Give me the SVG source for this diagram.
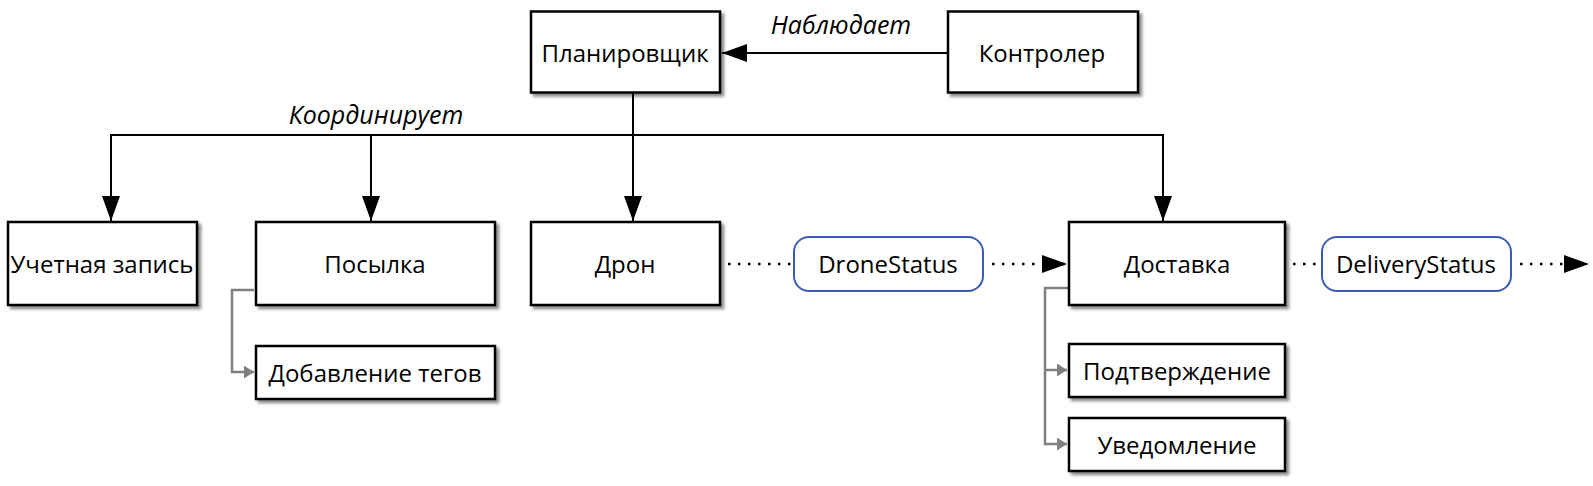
<svg xmlns="http://www.w3.org/2000/svg" width="1593" height="486" viewBox="0 0 1593 486">
<style>
  .box { fill: #ffffff; stroke: #000000; stroke-width: 2.5; filter: url(#shadow); }
  .data { fill: #ffffff; stroke: #3a5db3; stroke-width: 2; }
  .lbl { font-family: "Open Sans", "Noto Sans", sans-serif; font-size: 24px; fill: #000000; text-anchor: middle; dominant-baseline: central; }
  .edge { font-family: "Open Sans", "Noto Sans", sans-serif; font-size: 25px; font-style: italic; fill: #000000; text-anchor: middle; }
  .line { fill: none; stroke: #000000; stroke-width: 2; }
  .dot { fill: none; stroke: #000000; stroke-width: 2.5; stroke-dasharray: 2.5 7.5; }
  .gray { fill: none; stroke: #808080; stroke-width: 2.5; }
  .head { fill: #000000; }
</style>
<defs>
  <filter id="shadow" x="-10%" y="-10%" width="130%" height="140%">
    <feDropShadow dx="3" dy="3" stdDeviation="1.5" flood-color="#000000" flood-opacity="0.45"/>
  </filter>
  <marker id="arr" viewBox="0 0 25 18" refX="25" refY="9" markerWidth="25" markerHeight="18" markerUnits="userSpaceOnUse" orient="auto">
    <path d="M0,0 L25,9 L0,18 Z" class="head"/>
  </marker>
  <marker id="garr" viewBox="0 0 10 13" refX="10" refY="6.5" markerWidth="10" markerHeight="13" markerUnits="userSpaceOnUse" orient="auto">
    <path d="M0,0 L10,6.5 L0,13 Z" fill="#808080"/>
  </marker>
</defs>

<g id="connectors">
  <line class="line" x1="947" y1="53" x2="722" y2="53" marker-end="url(#arr)"/>
  <line class="line" x1="633" y1="93" x2="633" y2="221" marker-end="url(#arr)"/>
  <polyline class="line" points="111,221 111,135 1163,135 1163,221" marker-end="url(#arr)"/>
  <line class="line" x1="111" y1="136" x2="111" y2="221" marker-end="url(#arr)"/>
  <line class="line" x1="371" y1="135" x2="371" y2="221" marker-end="url(#arr)"/>
  <line class="dot" x1="728" y1="264" x2="793" y2="264"/>
  <line class="dot" x1="992" y1="264" x2="1067" y2="264" marker-end="url(#arr)"/>
  <line class="dot" x1="1293" y1="264" x2="1321" y2="264"/>
  <line class="dot" x1="1520" y1="264" x2="1589" y2="264" marker-end="url(#arr)"/>
  <polyline class="gray" points="254,290 232,290 232,372 254,372" marker-end="url(#garr)"/>
  <polyline class="gray" points="1068,288 1045,288 1045,444 1067,444" marker-end="url(#garr)"/>
  <line class="gray" x1="1045" y1="370" x2="1067" y2="370" marker-end="url(#garr)"/>
  <text class="edge" x="841" y="34">Наблюдает</text>
  <text class="edge" x="376" y="124">Координирует</text>
</g>

<g id="planner">
  <rect class="box" x="531" y="11.5" width="189" height="81"/>
  <text class="lbl" x="625" y="52">Планировщик</text>
</g>
<g id="controller">
  <rect class="box" x="948" y="11.5" width="190" height="81"/>
  <text class="lbl" x="1042" y="52">Контролер</text>
</g>
<g id="account">
  <rect class="box" x="8" y="222" width="189" height="83"/>
  <text class="lbl" x="102" y="263">Учетная запись</text>
</g>
<g id="package">
  <rect class="box" x="256" y="222" width="239" height="83"/>
  <text class="lbl" x="375" y="263">Посылка</text>
</g>
<g id="drone">
  <rect class="box" x="531" y="222" width="189" height="83"/>
  <text class="lbl" x="625" y="263">Дрон</text>
</g>
<g id="delivery">
  <rect class="box" x="1069" y="222" width="216" height="83"/>
  <text class="lbl" x="1177" y="263">Доставка</text>
</g>
<g id="tagging">
  <rect class="box" x="256" y="346" width="239" height="53"/>
  <text class="lbl" x="375" y="372">Добавление тегов</text>
</g>
<g id="confirmation">
  <rect class="box" x="1069" y="344" width="216" height="53"/>
  <text class="lbl" x="1177" y="370">Подтверждение</text>
</g>
<g id="notification">
  <rect class="box" x="1069" y="418" width="216" height="53"/>
  <text class="lbl" x="1177" y="444">Уведомление</text>
</g>
<g id="dronestatus">
  <rect class="data" x="794" y="237" width="189" height="54" rx="15" ry="15"/>
  <text class="lbl" x="888" y="263">DroneStatus</text>
</g>
<g id="deliverystatus">
  <rect class="data" x="1322" y="237" width="189" height="54" rx="15" ry="15"/>
  <text class="lbl" x="1416" y="263">DeliveryStatus</text>
</g>
</svg>
